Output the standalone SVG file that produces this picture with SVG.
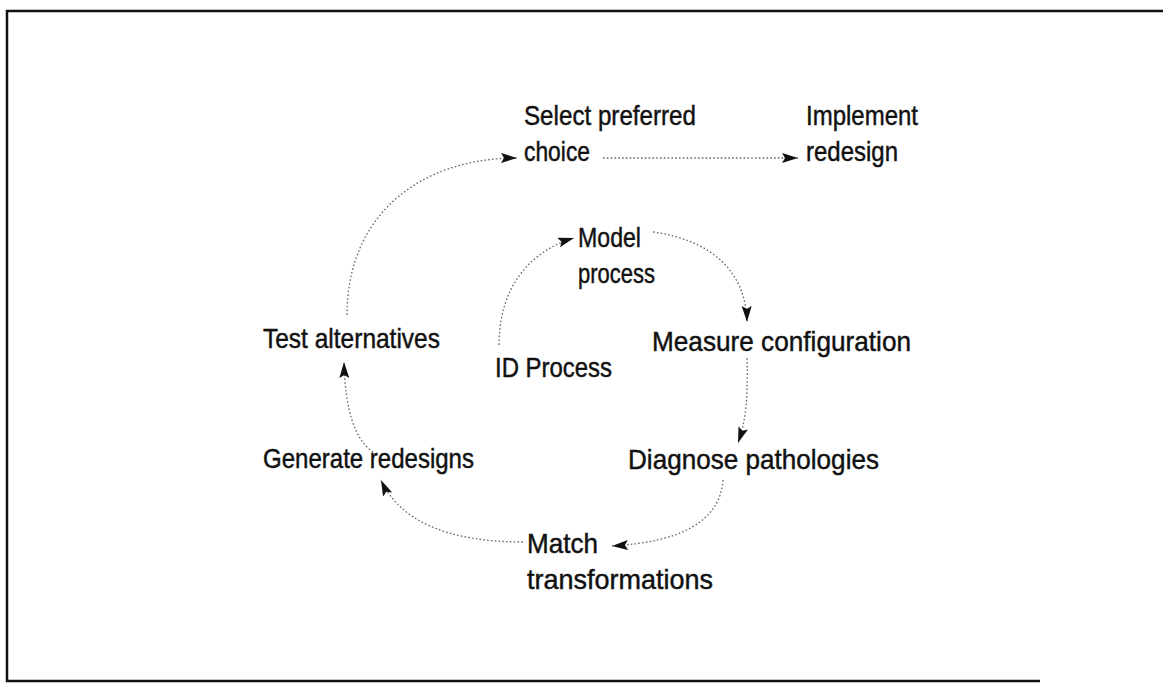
<svg xmlns="http://www.w3.org/2000/svg" width="1163" height="683" viewBox="0 0 1163 683">
  <style>
    .frame { fill: none; stroke: #111; stroke-width: 2.5; }
    .lbl { font-family: "Liberation Sans", Arial, sans-serif; font-size: 28px; fill: #111; stroke: #111; stroke-width: 0.45; }
    .flow { fill: none; stroke: #666; stroke-width: 1.3; stroke-dasharray: 1.6 2.2; }
  </style>
  <defs>
    <marker id="head" markerUnits="userSpaceOnUse" markerWidth="18" markerHeight="12" refX="16" refY="5" orient="auto">
      <path d="M0,0 L16,5 L0,10 L3,5 z" fill="#111"/>
    </marker>
  </defs>

  <rect width="1163" height="683" fill="#fff"/>

  <!-- outer frame (open on the right) -->
  <path class="frame" d="M1163,11 L7,11 L7,681 L1040,681"/>

  <!-- connectors -->
  <g id="connectors">
    <path class="flow" d="M347,315 C347,215 420,158 517,158" marker-end="url(#head)"/>
    <path class="flow" d="M603,158 L798,158" marker-end="url(#head)"/>
    <path class="flow" d="M499,345 C499,290 527,252 574,238" marker-end="url(#head)"/>
    <path class="flow" d="M653,232 C712,240 746,272 747,322" marker-end="url(#head)"/>
    <path class="flow" d="M747,358 C748,400 746,420 738,443" marker-end="url(#head)"/>
    <path class="flow" d="M723,480 C720,522 680,542 612,546" marker-end="url(#head)"/>
    <path class="flow" d="M523,542 C450,542 400,522 381,480" marker-end="url(#head)"/>
    <path class="flow" d="M373,452 C355,440 345,410 344,362" marker-end="url(#head)"/>
  </g>

  <!-- nodes -->
  <g id="select-preferred">
    <text class="lbl" x="524" y="125" textLength="172" lengthAdjust="spacingAndGlyphs">Select preferred</text>
    <text class="lbl" x="524" y="161" textLength="66" lengthAdjust="spacingAndGlyphs">choice</text>
  </g>
  <g id="implement-redesign">
    <text class="lbl" x="806" y="125" textLength="112" lengthAdjust="spacingAndGlyphs">Implement</text>
    <text class="lbl" x="806" y="161" textLength="92" lengthAdjust="spacingAndGlyphs">redesign</text>
  </g>
  <g id="model-process">
    <text class="lbl" x="578" y="247" textLength="63" lengthAdjust="spacingAndGlyphs">Model</text>
    <text class="lbl" x="578" y="283" textLength="77" lengthAdjust="spacingAndGlyphs">process</text>
  </g>
  <g id="test-alternatives">
    <text class="lbl" x="263" y="348" textLength="177" lengthAdjust="spacingAndGlyphs">Test alternatives</text>
  </g>
  <g id="id-process">
    <text class="lbl" x="495" y="377" textLength="117" lengthAdjust="spacingAndGlyphs">ID Process</text>
  </g>
  <g id="measure-configuration">
    <text class="lbl" x="652" y="351" textLength="259" lengthAdjust="spacingAndGlyphs">Measure configuration</text>
  </g>
  <g id="generate-redesigns">
    <text class="lbl" x="263" y="468" textLength="211" lengthAdjust="spacingAndGlyphs">Generate redesigns</text>
  </g>
  <g id="diagnose-pathologies">
    <text class="lbl" x="628" y="469" textLength="251" lengthAdjust="spacingAndGlyphs">Diagnose pathologies</text>
  </g>
  <g id="match-transformations">
    <text class="lbl" x="527" y="553" textLength="71" lengthAdjust="spacingAndGlyphs">Match</text>
    <text class="lbl" x="527" y="589" textLength="186" lengthAdjust="spacingAndGlyphs">transformations</text>
  </g>
</svg>
